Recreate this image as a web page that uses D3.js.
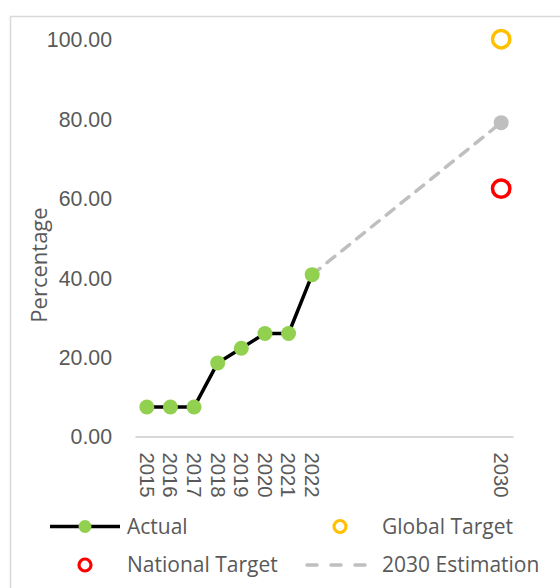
<!DOCTYPE html>
<html>
<head>
<meta charset="utf-8">
<script src="https://cdn.jsdelivr.net/npm/d3@7/dist/d3.min.js"></script>
<style>
  html, body { margin: 0; padding: 0; background: #fff; }
  svg { display: block; font-family: "Open Sans", "Noto Sans", sans-serif; }
</style>
</head>
<body>
<svg id="chart" width="560" height="588"></svg>
<script>
// Years on the category axis (2023–2029 are empty slots)
const years = ["2015","2016","2017","2018","2019","2020","2021","2022",
               "2023","2024","2025","2026","2027","2028","2029","2030"];
const tickYears = ["2015","2016","2017","2018","2019","2020","2021","2022","2030"];

// Actual progress, 2015–2022 (%)
const actualYears = ["2015","2016","2017","2018","2019","2020","2021","2022"];
const actualValues = [7.41, 7.41, 7.41, 18.52, 22.22, 25.93, 25.93, 40.74];

// Projection from the last actual value to 2030
const estimationYears = ["2022","2030"];
const estimationValues = [40.74, 79.0];

// Targets for 2030
const globalTarget = [{ year: "2030", value: 100 }];
const nationalTarget = [{ year: "2030", value: 62.4 }];

const yTicks = [0, 20, 40, 60, 80, 100];

const svg = d3.select("#chart");
const textColor = "#595959";
const axisColor = "#d9d9d9";

// Outer chart frame
svg.append("rect")
  .attr("x", 10.5).attr("y", 16.5)
  .attr("width", 600).attr("height", 600)
  .attr("fill", "none").attr("stroke", axisColor).attr("stroke-width", 1.5);

const plot = { left: 135, right: 513, top: 39.2, bottom: 436.5 };

const x = d3.scaleBand().domain(years).range([plot.left, plot.right]);
const xc = d => x(d) + x.bandwidth() / 2;
const y = d3.scaleLinear().domain([0, 100]).range([plot.bottom, plot.top]);

// Y axis: labels only
const yAxis = svg.append("g")
  .attr("transform", `translate(${plot.left - 23},0)`)
  .call(d3.axisLeft(y).tickValues(yTicks).tickFormat(d3.format(".2f")).tickSize(0).tickPadding(0));
yAxis.select(".domain").remove();
yAxis.selectAll("text")
  .attr("fill", textColor).attr("font-size", 21.3).attr("dy", "0.35em");

// X axis: baseline plus rotated year labels
const xAxis = svg.append("g")
  .attr("transform", `translate(0,${plot.bottom})`)
  .call(d3.axisBottom(x).tickValues(tickYears).tickSize(0).tickPadding(0));
xAxis.select(".domain").attr("stroke", axisColor).attr("stroke-width", 2);
xAxis.selectAll("text")
  .attr("fill", textColor).attr("font-size", 20.3)
  .attr("transform", "rotate(90)")
  .attr("text-anchor", "start")
  .attr("x", 16).attr("y", 0).attr("dy", "0.35em");

// Y axis title
svg.append("text")
  .attr("transform", `translate(47,${(208 + 322) / 2}) rotate(-90)`)
  .attr("text-anchor", "middle")
  .attr("fill", textColor).attr("font-size", 22)
  .text("Percentage");

// 2030 estimation (dashed)
const estData = estimationYears.map((yr, i) => ({ year: yr, value: estimationValues[i] }));
svg.append("path")
  .datum(estData)
  .attr("fill", "none").attr("stroke", "#bfbfbf").attr("stroke-width", 3.5)
  .attr("stroke-dasharray", "10,9").attr("stroke-linecap", "round")
  .attr("d", d3.line().x(d => xc(d.year)).y(d => y(d.value)));
svg.append("circle")
  .attr("cx", xc(estData[1].year)).attr("cy", y(estData[1].value))
  .attr("r", 7.5).attr("fill", "#bfbfbf");

// Actual series
const actData = actualYears.map((yr, i) => ({ year: yr, value: actualValues[i] }));
svg.append("path")
  .datum(actData)
  .attr("fill", "none").attr("stroke", "#000").attr("stroke-width", 3.5)
  .attr("stroke-linejoin", "round")
  .attr("d", d3.line().x(d => xc(d.year)).y(d => y(d.value)));
svg.selectAll("circle.actual")
  .data(actData).join("circle").attr("class", "actual")
  .attr("cx", d => xc(d.year)).attr("cy", d => y(d.value))
  .attr("r", 7.5).attr("fill", "#92d050");

// Targets
svg.selectAll("circle.global")
  .data(globalTarget).join("circle").attr("class", "global")
  .attr("cx", d => xc(d.year)).attr("cy", d => y(d.value))
  .attr("r", 8.7).attr("fill", "none").attr("stroke", "#ffc000").attr("stroke-width", 3.5);
svg.selectAll("circle.national")
  .data(nationalTarget).join("circle").attr("class", "national")
  .attr("cx", d => xc(d.year)).attr("cy", d => y(d.value))
  .attr("r", 8.7).attr("fill", "none").attr("stroke", "#ff0000").attr("stroke-width", 3.5);

// Legend
const leg = svg.append("g").attr("font-size", 21).attr("fill", textColor);
const row1 = 526.5, row2 = 565;
// Actual
leg.append("line").attr("x1", 50).attr("x2", 120).attr("y1", row1).attr("y2", row1)
  .attr("stroke", "#000").attr("stroke-width", 3.5);
leg.append("circle").attr("cx", 85).attr("cy", row1).attr("r", 6.5).attr("fill", "#92d050");
leg.append("text").attr("x", 127).attr("y", row1).attr("dy", "0.35em").text("Actual");
// Global Target
leg.append("circle").attr("cx", 340).attr("cy", row1).attr("r", 6).attr("fill", "none")
  .attr("stroke", "#ffc000").attr("stroke-width", 3.2);
leg.append("text").attr("x", 382).attr("y", row1).attr("dy", "0.35em").text("Global Target");
// National Target
leg.append("circle").attr("cx", 85).attr("cy", row2).attr("r", 6).attr("fill", "none")
  .attr("stroke", "#ff0000").attr("stroke-width", 3.2);
leg.append("text").attr("x", 127).attr("y", row2).attr("dy", "0.35em").text("National Target");
// 2030 Estimation
leg.append("line").attr("x1", 307).attr("x2", 375).attr("y1", row2).attr("y2", row2)
  .attr("stroke", "#bfbfbf").attr("stroke-width", 3.5)
  .attr("stroke-dasharray", "10,14").attr("stroke-linecap", "round");
leg.append("text").attr("x", 382).attr("y", row2).attr("dy", "0.35em").text("2030 Estimation");
</script>
</body>
</html>
